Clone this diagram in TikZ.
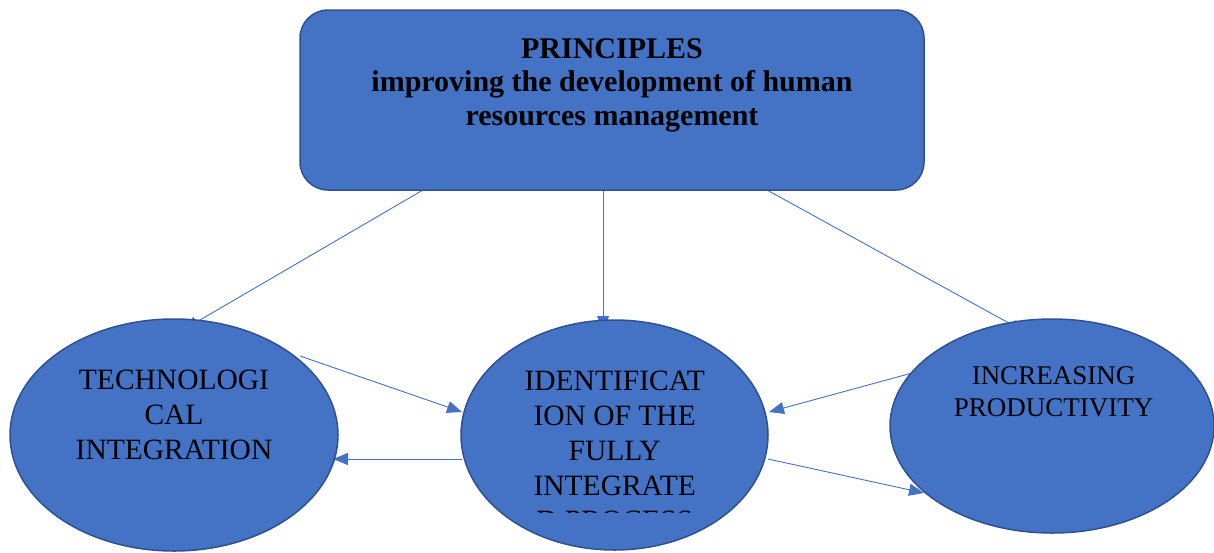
\documentclass[tikz,border=0pt]{standalone}
\usepackage{fontspec}
\setmainfont{Liberation Serif}
\usetikzlibrary{shapes.geometric,arrows.meta}
\pgfdeclarelayer{bg}
\pgfsetlayers{bg,main}
\definecolor{fillblue}{HTML}{4472C4}
\definecolor{edgeblue}{HTML}{2F528F}
\begin{document}
\begin{tikzpicture}[x=1pt,y=-1pt,
  shapebox/.style={draw=edgeblue,fill=fillblue,line width=1.5pt},
  oval/.style={shapebox,ellipse,inner sep=0pt},
  conn/.style={draw=fillblue,line width=0.9pt,-{Triangle[length=15pt,width=12pt]}},
  txt/.style={inner sep=0pt,anchor=base,text=black}]
\useasboundingbox (0,0) rectangle (1214,552);
% shapes
\node[shapebox,rectangle,rounded corners=28pt,minimum width=624pt,minimum height=180pt,inner sep=0pt] (T) at (612,100) {};
\node[oval,minimum width=328pt,minimum height=232pt] (L) at (174,435) {};
\node[oval,minimum width=307pt,minimum height=230pt] (M) at (614.5,435) {};
\node[oval,minimum width=324pt,minimum height=214pt] (R) at (1052,426) {};
% texts
\node[txt,font=\fontsize{30}{33.5}\selectfont\bfseries] (Ttext) at (612,58)
  {\begin{tabular}[t]{@{}c@{}}PRINCIPLES\\improving the development of human\\resources management\end{tabular}};
\node[txt,font=\fontsize{29.5}{35}\selectfont] (Ltext) at (174,389)
  {\begin{tabular}[t]{@{}c@{}}TECHNOLOGI\\CAL\\INTEGRATION\end{tabular}};
\begin{scope}
  \clip (450,300) rectangle (780,512);
  \node[txt,font=\fontsize{29.5}{35}\selectfont] (Mtext) at (614.7,390)
    {\begin{tabular}[t]{@{}c@{}}IDENTIFICAT\\ION OF THE\\FULLY\\INTEGRATE\\D PROCESS\end{tabular}};
\end{scope}
\node[txt,font=\fontsize{27}{32}\selectfont] (Rtext) at (1053.5,384)
  {\begin{tabular}[t]{@{}c@{}}INCREASING\\PRODUCTIVITY\end{tabular}};
% connectors
\begin{pgfonlayer}{bg}
\draw[conn] ([shift={(-189,90)}]T.center) -- ([shift={(9.5,-105.4)}]L.center);
\draw[conn] ([shift={(-9,90)}]T.center) -- ([shift={(-11.5,-104)}]M.center);
\draw[conn] ([shift={(155,90)}]T.center) -- ([shift={(-26,-93.5)}]R.center);
\draw[conn] ([shift={(126,-79)}]L.center) -- ([shift={(-152.5,-23)}]M.center);
\draw[conn] ([shift={(-152.5,24)}]M.center) -- ([shift={(159,24)}]L.center);
\draw[conn] ([shift={(-140,-53)}]R.center) -- ([shift={(154.5,-23)}]M.center);
\draw[conn] ([shift={(153.5,24)}]M.center) -- ([shift={(-128,67)}]R.center);
\end{pgfonlayer}
\end{tikzpicture}
\end{document}
